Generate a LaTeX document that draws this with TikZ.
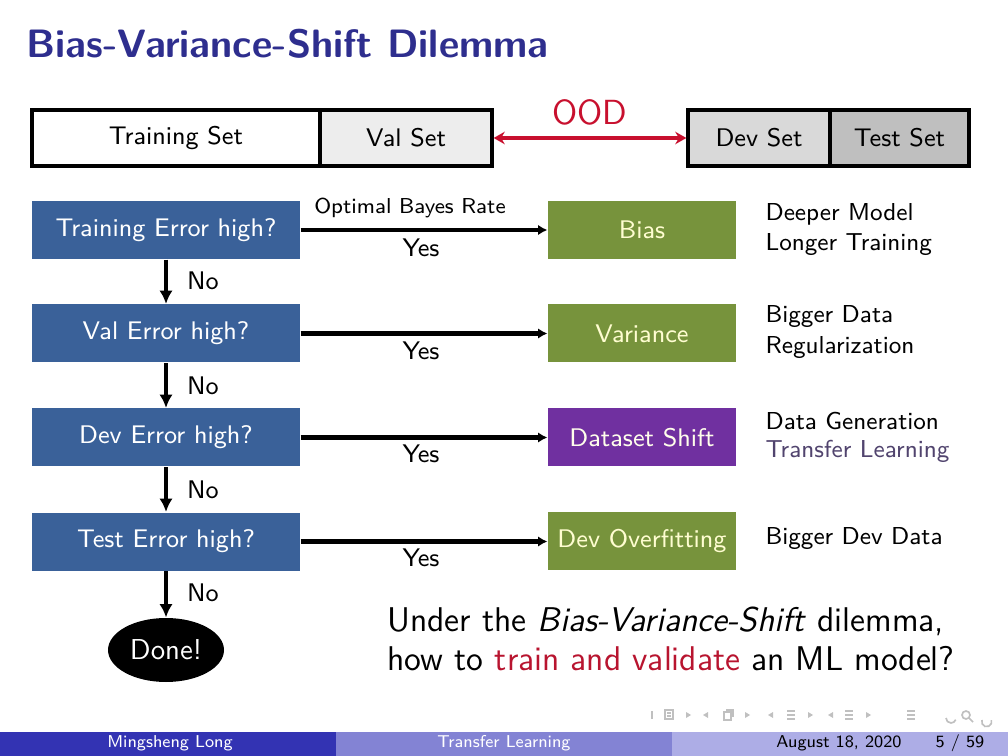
\documentclass[tikz,border=0pt]{standalone}
\usepackage{fontspec}
\usetikzlibrary{arrows.meta,shapes.geometric}
\newlength\pu
\setlength\pu{0.126984mm}
\definecolor{boxblue}{HTML}{3A6199}
\definecolor{boxgreen}{HTML}{77933C}
\definecolor{boxpurple}{HTML}{7030A0}
\definecolor{titleblue}{HTML}{2E2E8E}
\definecolor{oodred}{HTML}{C8102E}
\definecolor{alertred}{HTML}{B8142F}
\definecolor{linkpurple}{HTML}{51446E}
\definecolor{footA}{HTML}{3333B3}
\definecolor{footB}{HTML}{8383D4}
\definecolor{footC}{HTML}{ADADE6}
\definecolor{navgray}{HTML}{C0C0C0}
\begin{document}
\begin{tikzpicture}[x=\pu,y=-\pu,font=\sffamily,
  normtext/.style={inner sep=0,font=\sffamily\fontsize{9.2}{11}\selectfont},
  remtext/.style={inner sep=0,anchor=west,font=\sffamily\fontsize{8.85}{11}\selectfont},
  setbox/.style={draw,line width=1.2pt,minimum height=56*\pu,inner sep=0,font=\sffamily\fontsize{9.2}{11}\selectfont},
  qbox/.style={fill=boxblue,text=white,minimum width=268*\pu,minimum height=58*\pu,inner sep=0,font=\sffamily\fontsize{9.2}{11}\selectfont},
  rbox/.style={fill=boxgreen,text=white!82!yellow,minimum width=188*\pu,minimum height=58*\pu,inner sep=0,font=\sffamily\fontsize{9.2}{11}\selectfont},
  harrow/.style={line width=1.5pt,-{Latex[length=3.4pt,width=3.8pt]}},
  varrow/.style={line width=1.3pt,-{Latex[length=4.8pt,width=4.8pt]}},
  foottext/.style={inner sep=0,font=\sffamily\fontsize{6.2}{7}\selectfont}]
\useasboundingbox (0,0) rectangle (1008,756);
\fill[white] (0,0) rectangle (1008,756);

% title
\node[anchor=base west,inner sep=0,text=titleblue,font=\sffamily\bfseries\fontsize{14.3}{17}\selectfont] (title) at (26,58) {Bias-Variance-Shift Dilemma};

% data split bar
\node[setbox,minimum width=288*\pu] (trs) at (176,138) {Training Set};
\node[setbox,minimum width=172*\pu,fill=black!7] (vals) at (406,138) {Val Set};
\node[setbox,minimum width=142*\pu,fill=black!15] (devs) at (759,138) {Dev Set};
\node[setbox,minimum width=139*\pu,fill=black!25] (tests) at (899.5,138) {Test Set};
\draw[oodred,line width=1.5pt,{Stealth[length=4pt,width=4.5pt]}-{Stealth[length=4pt,width=4.5pt]}] (vals.east) -- (devs.west);
\node[inner sep=0,text=oodred,font=\sffamily\fontsize{12.6}{14}\selectfont] (ood) at (590,112) {OOD};

% questions
\node[qbox] (q1) at (166,230) {Training Error high?};
\node[qbox] (q2) at (166,333.5) {Val Error high?};
\node[qbox] (q3) at (166,437.5) {Dev Error high?};
\node[qbox] (q4) at (166,541.5) {Test Error high?};
\node[ellipse,fill=black,text=white,minimum width=116*\pu,minimum height=64*\pu,inner sep=0,font=\sffamily\fontsize{10.4}{12}\selectfont] (done) at (166,650) {Done!};

% results
\node[rbox] (r1) at (642,230) {Bias};
\node[rbox] (r2) at (642,333.5) {Variance};
\node[rbox,fill=boxpurple,text=white!92!yellow] (r3) at (642,437.5) {Dataset Shift};
\node[rbox] (r4) at (642,541) {Dev Overfitting};

% yes arrows
\draw[harrow] (q1.east) -- (r1.west);
\draw[harrow] (q2.east) -- (r2.west);
\draw[harrow] (q3.east) -- (r3.west);
\draw[harrow] (q4.east) -- (q4.east -| r4.west);
\node[inner sep=0,font=\sffamily\fontsize{7.8}{9}\selectfont] (obr) at (410,208) {Optimal Bayes Rate};
\node[normtext] (y1) at (421,248) {Yes};
\node[normtext] (y2) at (421,351) {Yes};
\node[normtext] (y3) at (421,454) {Yes};
\node[normtext] (y4) at (421,558) {Yes};

% no arrows
\draw[varrow] (q1.south) -- (q2.north);
\draw[varrow] (q2.south) -- (q3.north);
\draw[varrow] (q3.south) -- (q4.north);
\draw[varrow] (q4.south) -- (done.north);
\node[normtext] (n1) at (203,281) {No};
\node[normtext] (n2) at (203,386) {No};
\node[normtext] (n3) at (203,490) {No};
\node[normtext] (n4) at (203,593) {No};

% remedies
\node[remtext] (a1) at (765,214) {Deeper Model};
\node[remtext] (a2) at (765,245) {Longer Training};
\node[remtext] (b1) at (765,317) {Bigger Data};
\node[remtext] (b2) at (765,348) {Regularization};
\node[remtext] (c1) at (765,421) {Data Generation};
\node[remtext,text=linkpurple] (c2) at (765,451) {Transfer Learning};
\node[remtext] (d1) at (765,539) {Bigger Dev Data};

% question text
\node[inner sep=0,anchor=west,font=\sffamily\fontsize{12.4}{15}\selectfont] (u1) at (387,621) {Under the \textit{Bias-Variance-Shift} dilemma,};
\node[inner sep=0,anchor=west,font=\sffamily\fontsize{12.4}{15}\selectfont] (u2) at (387,659) {how to \textcolor{alertred}{train and validate} an ML model?};

% navigation symbols
\begin{scope}[navgray,line width=0.6pt]
\draw (652,711) -- (652,719);
\draw (665,710) rectangle (673,719); \draw (667,713) -- (671,713) (667,716) -- (671,716);
\fill (686,712) -- (691,715) -- (686,718) -- cycle;
\fill (708,712) -- (703,715) -- (708,718) -- cycle;
\draw (724,712) rectangle (731,720); \draw (726,710) -- (733,710) -- (733,717);
\fill (745,712) -- (750,715) -- (745,718) -- cycle;
\fill (773,712) -- (768,715) -- (773,718) -- cycle;
\draw (787,711) -- (795,711) (787,715) -- (795,715) (787,719) -- (795,719);
\fill (808,712) -- (813,715) -- (808,718) -- cycle;
\fill (833,712) -- (828,715) -- (833,718) -- cycle;
\draw (845,711) -- (853,711) (845,715) -- (853,715) (845,719) -- (853,719);
\fill (866,712) -- (871,715) -- (866,718) -- cycle;
\draw (907,711) -- (915,711) (907,715) -- (915,715) (907,719) -- (915,719);
\draw (946,718) arc (180:20:5);
\draw (966,715) circle (4); \draw (969,718) -- (973,722);
\draw (982,720) arc (200:-20:5);
\end{scope}

% footer
\fill[footA] (0,732) rectangle (336,756);
\fill[footB] (336,732) rectangle (672,756);
\fill[footC] (672,732) rectangle (1008,756);
\node[foottext,text=white] (fa) at (170,743) {Mingsheng Long};
\node[foottext,text=white] (ft) at (504,743) {Transfer Learning};
\node[foottext] (fd) at (839,743) {August 18, 2020};
\node[foottext] (fp) at (960,743) {5 / 59};
\end{tikzpicture}
\end{document}
